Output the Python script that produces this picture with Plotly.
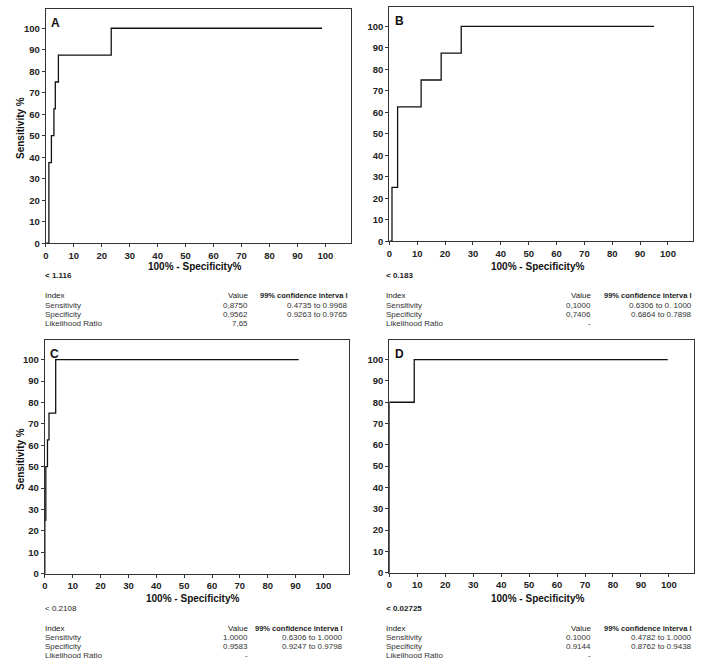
import plotly.graph_objects as go

W, H = 706, 672

# ---------------- data ----------------
panel_labels = ["A", "B", "C", "D"]

a_fpr = [0, 1.1, 1.1, 2.0, 2.0, 2.9, 2.9, 3.4, 3.4, 4.5, 4.5, 23.4, 23.4, 98.8]
a_tpr = [0, 0, 37.5, 37.5, 50, 50, 62.5, 62.5, 75, 75, 87.5, 87.5, 100, 100]

b_fpr = [0, 0.95, 0.95, 2.96, 2.96, 11.4, 11.4, 18.6, 18.6, 25.8, 25.8, 95.0]
b_tpr = [0, 0, 25, 25, 62.5, 62.5, 75, 75, 87.5, 87.5, 100, 100]

c_fpr = [0, 0, 0.36, 0.36, 0.95, 0.95, 1.5, 1.5, 3.9, 3.9, 91.1]
c_tpr = [0, 25, 25, 50, 50, 62.5, 62.5, 75, 75, 100, 100]

d_fpr = [0, 0, 8.9, 8.9, 99.6]
d_tpr = [0, 80, 80, 100, 100]

thresholds = ["< 1.116", "< 0.183", "< 0.2108", "< 0.02725"]
row_names = ["Sensitivity", "Specificity", "Likelihood Ratio"]
a_values = ["0,8750", "0,9562", "7,65"]
a_ci = ["0.4735 to 0.9968", "0.9263 to 0.9765", ""]
b_values = ["0,1000", "0,7406", "-"]
b_ci = ["0.6306 to 0. 1000", "0.6864 to 0.7898", ""]
c_values = ["1.0000", "0.9583", "-"]
c_ci = ["0.6306 to 1.0000", "0.9247 to 0.9798", ""]
d_values = ["0.1000", "0.9144", "-"]
d_ci = ["0.4782 to 1.0000", "0.8762 to 0.9438", ""]

tick_vals = list(range(0, 101, 10))
tick_text = [str(v) for v in tick_vals]

# ---------------- layout helpers ----------------
def px(x):
    return x / W

def py(y):
    return 1 - y / H

# plot boxes in pixel coords: (left, right, top, bottom)
boxes = [(43, 349, 9, 245), (388, 693, 7, 243), (42, 347, 343, 578), (388, 694, 343, 577)]
curves = [(a_fpr, a_tpr), (b_fpr, b_tpr), (c_fpr, c_tpr), (d_fpr, d_tpr)]
values = [a_values, b_values, c_values, d_values]
cis = [a_ci, b_ci, c_ci, d_ci]
# text anchor positions: (index_x, value_right_x, ci_right_x, title_y, thr_y, header_y)
tables = [(40, 248, 348, 268, 278, 298),
          (383, 593, 694, 268, 278, 298),
          (40, 248, 343, 603, 613, 633),
          (383, 593, 694, 603, 613, 633)]

FONT = "Liberation Sans, Arial, sans-serif"
fig = go.Figure()
layout = dict(width=W, height=H, margin=dict(l=0, r=0, t=0, b=0),
              paper_bgcolor="white", plot_bgcolor="white", showlegend=False)
annotations = []

def ann(x, y, text, anchor, size=8, color="#333333", angle=0):
    annotations.append(dict(x=px(x), y=py(y), xref="paper", yref="paper", text=text,
                            showarrow=False, xanchor=anchor, yanchor="middle",
                            textangle=angle,
                            font=dict(family=FONT, size=size, color=color)))

for i, ((l, r, t, b), (xs, ys)) in enumerate(zip(boxes, curves)):
    n = "" if i == 0 else str(i + 1)
    fig.add_trace(go.Scatter(x=xs, y=ys, mode="lines", xaxis="x" + n, yaxis="y" + n,
                             line=dict(color="#111111", width=1.3), hoverinfo="skip"))
    axcommon = dict(range=[0, 109], showgrid=False, zeroline=False, showline=True,
                    linecolor="#333333", linewidth=1.2, mirror=True,
                    ticks="outside", ticklen=3, tickwidth=1, tickcolor="#333333",
                    tickvals=tick_vals, ticktext=tick_text,
                    tickfont=dict(family=FONT, size=9.5, color="#222222", weight="bold"))
    layout["xaxis" + n] = dict(axcommon, domain=[px(l), px(r)], anchor="y" + n)
    layout["yaxis" + n] = dict(axcommon, domain=[py(b), py(t)], anchor="x" + n)

    ann(l + 10, t + 14, "<b>%s</b>" % panel_labels[i], "center", size=12, color="#111111")
    ix, vx, cx, ty, thy, hy = tables[i]
    ann((l + r) / 2 - 4, ty, "<b>100% - Specificity%</b>", "center", size=10, color="#111111")
    thr = thresholds[i].replace("<", "&lt;")
    ann(ix, thy, thr if i == 2 else "<b>%s</b>" % thr, "left", size=8, color="#222222")
    ann(ix, hy, "Index", "left", color="#222222")
    ann(vx, hy, "Value", "right", color="#222222")
    ann(cx, hy, "<b>99% confidence interva l</b>", "right", size=7.5, color="#222222")
    for k, name in enumerate(row_names):
        yy = hy + 9.3 * (k + 1)
        ann(ix, yy, name, "left")
        ann(vx, yy, values[i][k], "right")
        if cis[i][k]:
            ann(cx, yy, cis[i][k], "right")

# y-axis titles for A and C
for (l, r, t, b) in (boxes[0], boxes[2]):
    ann(17, (t + b) / 2 + 2, "<b>Sensitivity %</b>", "center", size=10, color="#111111", angle=-90)

layout["annotations"] = annotations
fig.update_layout(**layout)
fig.write_html("out.html", config={"displayModeBar": False},
               post_script="document.body.style.margin='0';document.body.style.overflow='hidden';")
